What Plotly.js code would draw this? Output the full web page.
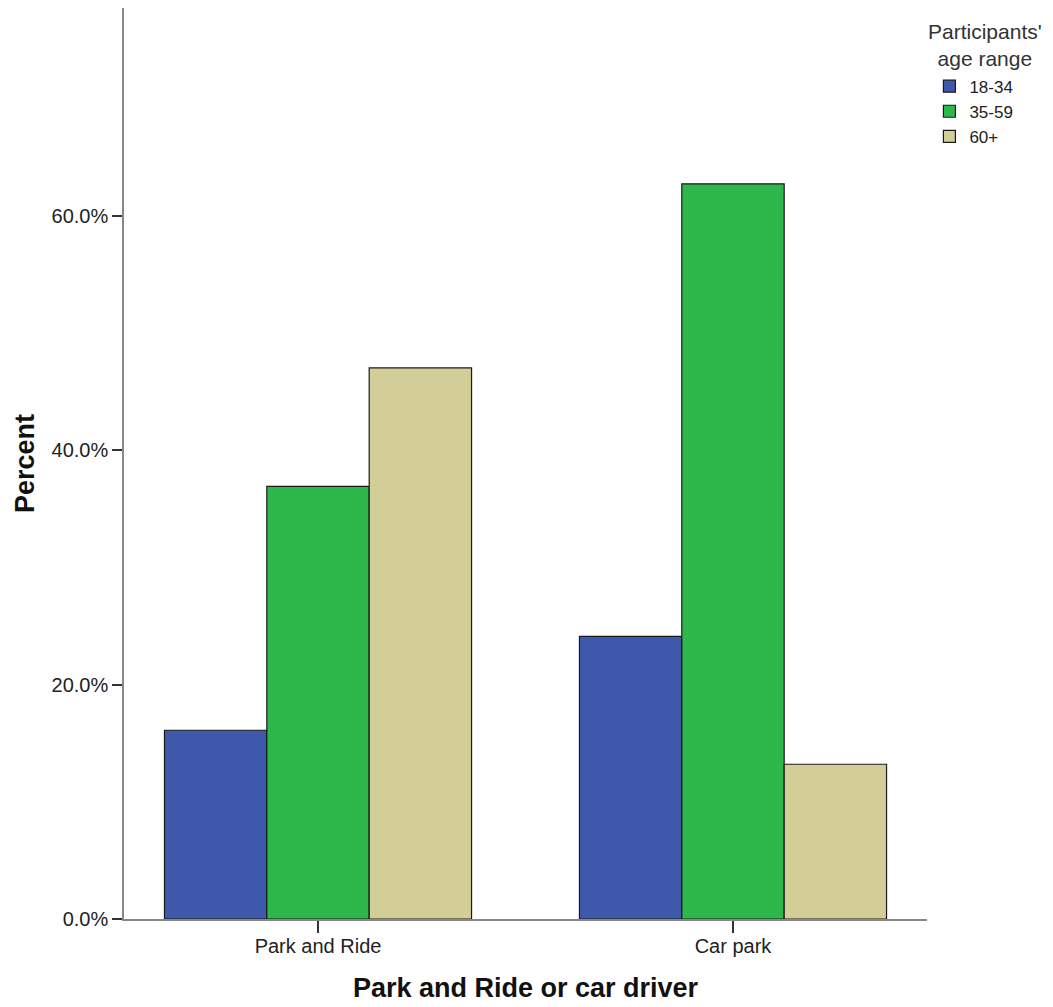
<!DOCTYPE html>
<html>
<head>
<meta charset="utf-8">
<script src="https://cdn.plot.ly/plotly-3.0.1.min.js"></script>
<style>html,body{margin:0;padding:0;background:#fff;}#chart{width:1053px;height:1007px;}</style>
</head>
<body>
<div id="chart"></div>
<script>
const categories = ["Park and Ride", "Car park"];
const ageGroups = ["18-34", "35-59", "60+"];
const pct_18_34 = [16.1, 24.1];
const pct_35_59 = [36.9, 62.7];
const pct_60_plus = [47.0, 13.2];
const yTickValues = [0, 20, 40, 60];
const yTickLabels = ["0.0%", "20.0%", "40.0%", "60.0%"];
const legendTitle = "Participants'<br>age range";
const xTitle = "Park and Ride or car driver";
const yTitle = "Percent";

const colors = ["#3e58ac", "#2eb84b", "#d3ce97"];
const series = [pct_18_34, pct_35_59, pct_60_plus];

const traces = series.map((vals, i) => ({
  type: "bar",
  name: ageGroups[i],
  x: categories,
  y: vals,
  marker: { color: colors[i], line: { color: "#1a1a1a", width: 1.2 } },
  hoverinfo: "x+y+name"
}));

const font = "Liberation Sans, Arial, sans-serif";

const layout = {
  width: 1053,
  height: 1007,
  margin: { l: 124, r: 126, t: 8, b: 88 },
  paper_bgcolor: "#ffffff",
  plot_bgcolor: "#ffffff",
  barmode: "group",
  bargap: 0.26,
  bargroupgap: 0,
  showlegend: true,
  font: { family: font, color: "#1a1a1a" },
  xaxis: {
    type: "category",
    range: [-0.4675, 1.4675],
    showline: true,
    linecolor: "#888888",
    linewidth: 1.5,
    ticks: "outside",
    ticklen: 12,
    tickcolor: "#333333",
    tickwidth: 1.5,
    ticklabelstandoff: -4,
    showgrid: false,
    zeroline: false,
    tickfont: { family: font, size: 20, color: "#222222" },
    title: { text: xTitle, font: { family: font, size: 27, weight: "bold", color: "#111111" }, standoff: 22 }
  },
  yaxis: {
    range: [0, 77.7],
    tickvals: yTickValues,
    ticktext: yTickLabels,
    showline: true,
    linecolor: "#888888",
    linewidth: 1.5,
    ticks: "outside",
    ticklen: 10,
    tickcolor: "#333333",
    tickwidth: 1.5,
    showgrid: false,
    zeroline: false,
    tickfont: { family: font, size: 20, color: "#222222" },
    title: { text: yTitle, font: { family: font, size: 27, weight: "bold", color: "#111111" }, standoff: 9 }
  },
  legend: {
    x: 1.003,
    xanchor: "left",
    y: 0.9335,
    yanchor: "top",
    bgcolor: "rgba(0,0,0,0)",
    font: { family: font, size: 17, color: "#222222" },
    tracegroupgap: 0,
    itemwidth: 30
  },
  annotations: [{
    text: legendTitle,
    xref: "paper", yref: "paper",
    x: (985 - 124) / 803, y: (919 - 18) / 911,
    xanchor: "center", yanchor: "top",
    align: "center",
    showarrow: false,
    font: { family: font, size: 21, color: "#333333" }
  }]
};

Plotly.newPlot("chart", traces, layout, { displayModeBar: false });
</script>
</body>
</html>
